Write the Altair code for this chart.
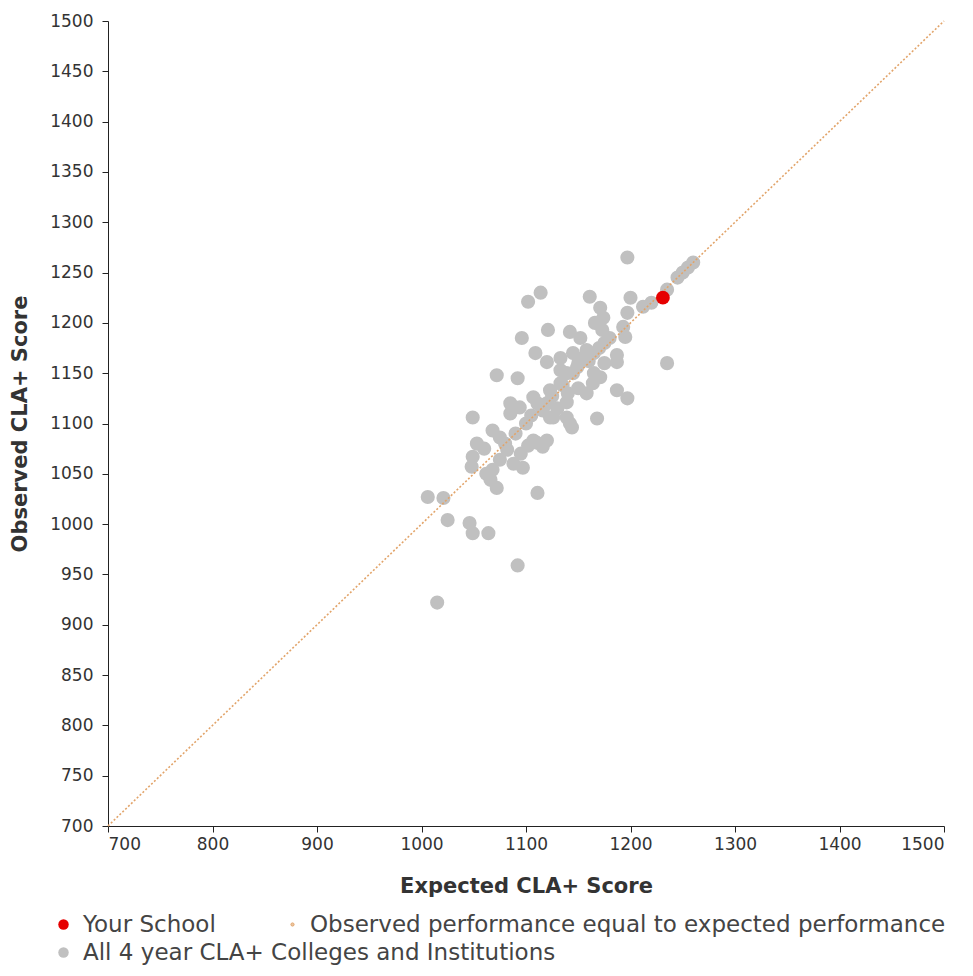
import altair as alt
import pandas as pd

# ---- data ----
school_x = [1231]
school_y = [1225]

gray_x = [1197, 1102, 1114, 1161, 1200, 1235, 1171, 1174, 1197, 1193, 1195, 1166, 1096, 1121,
          1142, 1152, 1173, 1109, 1120, 1145, 1158, 1187, 1187, 1235, 1072, 1092, 1139, 1133,
          1171, 1164, 1158, 1187, 1197, 1133, 1133, 1149, 1123, 1107, 1120, 1139, 1085, 1085,
          1094, 1111, 1116, 1126, 1139, 1142, 1144, 1168, 1049, 1068, 1075, 1053, 1049, 1048,
          1123, 1107, 1120, 1116, 1110, 1097, 1082, 1075, 1068, 1066, 1072, 1111, 1006, 1021,
          1025, 1046, 1049, 1064, 1092, 1015, 1245, 1250, 1255, 1260, 1212, 1220, 1080, 1090,
          1100, 1105, 1115, 1125, 1135, 1145, 1150, 1155, 1160, 1165, 1170, 1060, 1062, 1088,
          1095, 1102, 1130, 1140, 1150, 1175, 1180, 1175, 1165]
gray_y = [1265, 1221, 1230, 1226, 1225, 1233, 1215, 1205, 1210, 1196, 1186, 1200, 1185, 1193,
          1191, 1185, 1193, 1170, 1161, 1170, 1173, 1168, 1161, 1160, 1148, 1145, 1150, 1140,
          1146, 1140, 1130, 1133, 1125, 1165, 1153, 1156, 1133, 1126, 1120, 1121, 1120, 1110,
          1116, 1120, 1113, 1106, 1106, 1100, 1096, 1105, 1106, 1093, 1086, 1080, 1067, 1057,
          1106, 1083, 1083, 1077, 1081, 1056, 1074, 1064, 1054, 1044, 1036, 1031, 1027, 1026,
          1004, 1001, 991, 991, 959, 922, 1245, 1250, 1255, 1260, 1216, 1220, 1080, 1090,
          1100, 1108, 1118, 1127, 1138, 1150, 1160, 1165, 1162, 1170, 1175, 1075, 1050, 1060,
          1070, 1078, 1115, 1130, 1135, 1180, 1185, 1160, 1150]

line_x = [700, 1500]
line_y = [700, 1500]

point_series = ["Your School", "All 4 year CLA+ Colleges and Institutions"]
point_colors = ["#e60000", "#c0c0c0"]
line_series = ["Observed performance equal to expected performance"]
line_colors = ["#e2a46a"]

x_ticks = [700, 800, 900, 1000, 1100, 1200, 1300, 1400, 1500]
y_ticks = list(range(700, 1501, 50))

gray_df = pd.DataFrame({"x": gray_x, "y": gray_y, "series": point_series[1]})
school_df = pd.DataFrame({"x": school_x, "y": school_y, "series": point_series[0]})
line_df = pd.DataFrame({"x": line_x, "y": line_y, "series": line_series[0]})

FONT = "DejaVu Sans"

xs = alt.Scale(domain=[700, 1500], nice=False, zero=False)
ys = alt.Scale(domain=[700, 1500], nice=False, zero=False)

x_axis = alt.Axis(values=x_ticks, format="d", title="Expected CLA+ Score", grid=False,
                  tickSize=6, labelPadding=4, titlePadding=23,
                  labelFont=FONT, labelFontSize=17, labelColor="#333",
                  titleFont=FONT, titleFontSize=21, titleFontWeight="bold", titleColor="#333",
                  domainColor="#222", tickColor="#222")
y_axis = alt.Axis(values=y_ticks, format="d", title="Observed CLA+ Score", grid=False,
                  tickSize=6, labelPadding=9, titlePadding=19,
                  labelFont=FONT, labelFontSize=17, labelColor="#333",
                  titleFont=FONT, titleFontSize=21, titleFontWeight="bold", titleColor="#333",
                  domainColor="#222", tickColor="#222")

point_legend = alt.Legend(title=None, orient="none", legendX=-56, legendY=892,
                          direction="vertical", rowPadding=4,
                          labelFont=FONT, labelFontSize=23, labelColor="#444",
                          labelLimit=0, labelOffset=8, symbolStrokeWidth=0,
                          symbolType="circle", symbolSize=110)

line_legend = alt.Legend(title=None, orient="none", legendX=173, legendY=892,
                         labelFont=FONT, labelFontSize=23, labelColor="#444",
                         labelLimit=0, labelOffset=6, symbolType="circle",
                         symbolSize=10, symbolFillColor="#ecc7a4",
                         symbolStrokeColor="#ecc7a4", symbolStrokeWidth=1)

color_enc = alt.Color("series:N", scale=alt.Scale(domain=point_series, range=point_colors),
                      legend=point_legend)

gray_layer = alt.Chart(gray_df).mark_circle(opacity=1, size=200).encode(
    x=alt.X("x:Q", scale=xs, axis=x_axis),
    y=alt.Y("y:Q", scale=ys, axis=y_axis),
    color=color_enc,
)

line_layer = alt.Chart(line_df).mark_line(strokeWidth=1.6, strokeDash=[2, 2]).encode(
    x=alt.X("x:Q", scale=xs),
    y=alt.Y("y:Q", scale=ys),
    stroke=alt.Stroke("series:N", scale=alt.Scale(domain=line_series, range=line_colors),
                      legend=line_legend),
)

school_layer = alt.Chart(school_df).mark_circle(opacity=1, size=190).encode(
    x=alt.X("x:Q", scale=xs),
    y=alt.Y("y:Q", scale=ys),
    color=color_enc,
)

chart = alt.layer(gray_layer, line_layer, school_layer).properties(
    width=836, height=805,
    padding={"left": 100, "top": 13, "right": 21, "bottom": 140},
    autosize=alt.AutoSizeParams(type="none"),
    background="white",
).configure_view(stroke=None)

chart.save("out.html", embed_options={"renderer": "svg", "actions": False})
